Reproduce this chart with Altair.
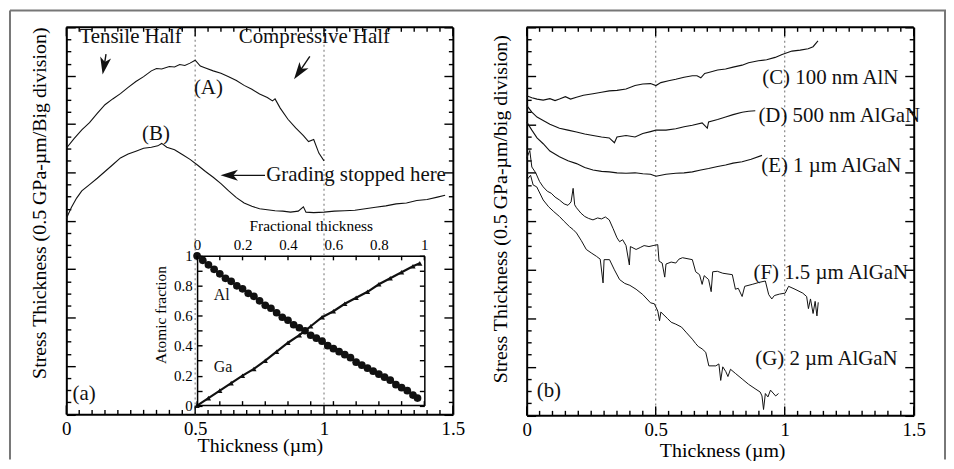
import altair as alt
import pandas as pd

# ---------------- data ----------------
a_t = [0.00, 0.03, 0.06, 0.09, 0.12, 0.15, 0.18, 0.21, 0.24, 0.27, 0.30, 0.33, 0.35, 0.37,
       0.40, 0.42, 0.44, 0.46, 0.48, 0.50, 0.52, 0.54, 0.57, 0.60, 0.63, 0.66, 0.69, 0.72,
       0.75, 0.78, 0.80, 0.81, 0.83, 0.86, 0.89, 0.92, 0.94, 0.96, 0.98, 1.00]
a_v = [5.50, 5.70, 5.88, 6.03, 6.22, 6.40, 6.52, 6.63, 6.76, 6.88, 6.98, 7.10, 7.15, 7.14,
       7.19, 7.18, 7.23, 7.21, 7.26, 7.32, 7.20, 7.16, 7.10, 7.05, 6.98, 6.90, 6.80, 6.72,
       6.62, 6.55, 6.48, 6.52, 6.33, 6.10, 5.92, 5.76, 5.64, 5.68, 5.40, 5.24]
b_t = [0.00, 0.02, 0.04, 0.06, 0.09, 0.12, 0.15, 0.18, 0.21, 0.24, 0.27, 0.30, 0.33, 0.355,
       0.37, 0.39, 0.42, 0.45, 0.48, 0.51, 0.54, 0.57, 0.60, 0.63, 0.66, 0.69, 0.72, 0.75,
       0.78, 0.81, 0.84, 0.87, 0.90, 0.92, 0.93, 0.96, 1.00, 1.04, 1.08, 1.12, 1.16, 1.20,
       1.24, 1.28, 1.32, 1.36, 1.40, 1.44, 1.47]
b_v = [4.05, 4.28, 4.47, 4.62, 4.75, 4.88, 5.02, 5.16, 5.30, 5.38, 5.44, 5.50, 5.52, 5.55,
       5.60, 5.52, 5.47, 5.37, 5.27, 5.15, 5.02, 4.90, 4.77, 4.62, 4.48, 4.37, 4.30, 4.25,
       4.23, 4.21, 4.20, 4.18, 4.20, 4.29, 4.18, 4.17, 4.18, 4.20, 4.21, 4.22, 4.25, 4.28,
       4.31, 4.35, 4.37, 4.42, 4.44, 4.49, 4.53]
al_frac = [0.0, 0.025, 0.05, 0.075, 0.1, 0.125, 0.15, 0.175, 0.2, 0.225, 0.25, 0.275, 0.3,
           0.325, 0.35, 0.375, 0.4, 0.425, 0.45, 0.475, 0.5, 0.525, 0.55, 0.575, 0.6, 0.625,
           0.65, 0.675, 0.7, 0.725, 0.75, 0.775, 0.8, 0.825, 0.85, 0.875, 0.9, 0.925, 0.95, 0.97]
al_val = [1.0, 0.97, 0.94, 0.91, 0.88, 0.85, 0.83, 0.80, 0.78, 0.75, 0.73, 0.70, 0.67,
          0.65, 0.62, 0.59, 0.57, 0.54, 0.52, 0.50, 0.47, 0.45, 0.43, 0.40, 0.38, 0.36,
          0.34, 0.32, 0.29, 0.27, 0.25, 0.23, 0.21, 0.19, 0.17, 0.14, 0.12, 0.10, 0.07, 0.05]
ga_frac = [0.0, 0.05, 0.1, 0.15, 0.2, 0.25, 0.3, 0.35, 0.4, 0.45, 0.5, 0.55, 0.6, 0.65,
           0.7, 0.75, 0.8, 0.85, 0.9, 0.95, 0.98]
ga_val = [0.0, 0.05, 0.10, 0.15, 0.20, 0.245, 0.30, 0.36, 0.42, 0.47, 0.53, 0.59, 0.63, 0.68,
          0.72, 0.76, 0.81, 0.85, 0.89, 0.93, 0.95]
c_t = [0.000, 0.020, 0.040, 0.064, 0.090, 0.110, 0.127, 0.150, 0.170, 0.193, 0.220, 0.257,
       0.290, 0.320, 0.350, 0.385, 0.420, 0.450, 0.480, 0.501, 0.520, 0.550, 0.578, 0.610,
       0.642, 0.660, 0.675, 0.690, 0.705, 0.740, 0.771, 0.800, 0.835, 0.860, 0.898, 0.930,
       0.963, 0.990, 1.028, 1.060, 1.091, 1.110, 1.129]
c_v = [6.59, 6.55, 6.52, 6.50, 6.53, 6.49, 6.52, 6.57, 6.52, 6.56, 6.60, 6.63,
       6.66, 6.69, 6.70, 6.73, 6.80, 6.83, 6.84, 6.80, 6.86, 6.90, 6.93, 6.97,
       7.00, 7.00, 6.96, 7.05, 7.07, 7.12, 7.14, 7.18, 7.22, 7.27, 7.31, 7.33,
       7.38, 7.44, 7.51, 7.53, 7.56, 7.60, 7.72]
d_t = [0.000, 0.020, 0.040, 0.064, 0.090, 0.127, 0.160, 0.193, 0.225, 0.257, 0.290, 0.320,
       0.340, 0.350, 0.385, 0.420, 0.450, 0.480, 0.501, 0.540, 0.578, 0.610, 0.642, 0.680,
       0.700, 0.705, 0.740, 0.771, 0.800, 0.835, 0.860, 0.886]
d_v = [6.39, 6.25, 6.15, 6.08, 6.00, 5.92, 5.88, 5.84, 5.80, 5.77, 5.74, 5.72,
       5.62, 5.74, 5.77, 5.74, 5.81, 5.85, 5.88, 5.88, 5.91, 5.95, 5.98, 6.03,
       5.92, 6.05, 6.10, 6.15, 6.20, 6.25, 6.27, 6.28]
e_t = [0.000, 0.020, 0.040, 0.064, 0.090, 0.127, 0.160, 0.193, 0.225, 0.257, 0.290, 0.320,
       0.350, 0.385, 0.420, 0.450, 0.480, 0.501, 0.540, 0.578, 0.610, 0.642, 0.675, 0.705,
       0.740, 0.771, 0.800, 0.835, 0.870, 0.912]
e_v = [6.05, 5.88, 5.72, 5.60, 5.45, 5.33, 5.25, 5.19, 5.11, 5.06, 5.03, 5.02,
       5.00, 4.99, 5.00, 4.98, 4.97, 4.93, 4.97, 4.99, 5.00, 5.02, 5.06, 5.09,
       5.13, 5.16, 5.20, 5.23, 5.28, 5.36]
f_t = [0.000, 0.012, 0.020, 0.035, 0.050, 0.064, 0.080, 0.095, 0.110, 0.127, 0.145, 0.160,
       0.172, 0.180, 0.186, 0.193, 0.210, 0.225, 0.240, 0.257, 0.275, 0.290, 0.305, 0.320,
       0.335, 0.350, 0.360, 0.372, 0.385, 0.398, 0.402, 0.424, 0.440, 0.455, 0.474, 0.490,
       0.508, 0.513, 0.525, 0.535, 0.540, 0.560, 0.578, 0.590, 0.604, 0.642, 0.655, 0.670,
       0.680, 0.688, 0.705, 0.715, 0.721, 0.739, 0.760, 0.797, 0.809, 0.820, 0.835, 0.845,
       0.874, 0.900, 0.925, 0.938, 0.950, 0.960, 0.980, 1.002, 1.015, 1.040, 1.070, 1.085,
       1.092, 1.100, 1.110, 1.118, 1.125, 1.130]
f_v = [5.30, 5.46, 5.12, 5.00, 4.82, 4.71, 4.62, 4.58, 4.50, 4.44, 4.36, 4.33,
       4.40, 4.68, 4.34, 4.28, 4.17, 4.10, 4.06, 4.03, 4.07, 4.05, 4.09, 4.03,
       3.85, 3.66, 3.58, 3.62, 3.50, 3.10, 3.48, 3.42, 3.46, 3.50, 3.48, 3.50,
       3.52, 3.18, 3.14, 2.85, 3.12, 3.16, 3.14, 3.22, 3.25, 3.21, 2.96, 2.90,
       2.70, 2.88, 2.80, 2.55, 2.96, 2.97, 2.93, 2.90, 2.60, 2.62, 2.45, 2.66,
       2.70, 2.74, 2.77, 2.49, 2.40, 2.47, 2.50, 2.52, 2.66, 2.60, 2.52, 2.45,
       2.20, 2.40, 2.10, 2.35, 2.05, 2.33]
g_t = [0.000, 0.015, 0.025, 0.039, 0.064, 0.085, 0.105, 0.127, 0.145, 0.166, 0.180, 0.193,
       0.212, 0.231, 0.250, 0.270, 0.285, 0.296, 0.300, 0.321, 0.340, 0.360, 0.380, 0.400,
       0.424, 0.450, 0.480, 0.495, 0.508, 0.515, 0.520, 0.545, 0.560, 0.578, 0.600, 0.620,
       0.642, 0.655, 0.665, 0.680, 0.694, 0.706, 0.733, 0.745, 0.752, 0.760, 0.772, 0.780,
       0.790, 0.810, 0.835, 0.860, 0.885, 0.905, 0.912, 0.918, 0.925, 0.935, 0.945, 0.955,
       0.965, 0.976]
g_v = [4.85, 4.95, 4.75, 4.71, 4.44, 4.30, 4.20, 4.10, 4.00, 3.89, 3.83, 3.76,
       3.60, 3.42, 3.35, 3.28, 3.22, 2.73, 3.21, 3.21, 3.00, 2.80, 2.72, 2.68,
       2.60, 2.49, 2.32, 2.30, 2.15, 1.95, 2.13, 2.00, 1.92, 1.88, 1.82, 1.70,
       1.57, 1.48, 1.42, 1.37, 1.30, 1.02, 1.02, 1.06, 0.72, 1.00, 0.90, 0.80,
       0.95, 0.86, 0.75, 0.64, 0.55, 0.48, 0.40, 0.12, 0.45, 0.38, 0.52, 0.46,
       0.40, 0.45]

dotted_x = [0.5, 1.0]
x_tick_labels = [0, 0.5, 1, 1.5]
inset_tick_labels = [0, 0.2, 0.4, 0.6, 0.8, 1]

ann_a_text = ["Tensile Half", "Compressive Half", "(A)", "(B)", "Grading stopped here", "(a)"]
ann_a_t = [0.051, 0.669, 0.495, 0.294, 0.776, 0.024]
ann_a_v = [7.80, 7.80, 6.75, 5.80, 4.94, 0.42]

arrow_t0 = [0.154, 0.945, 0.771]
arrow_v0 = [7.445, 7.40, 4.94]
arrow_t1 = [0.147, 0.904, 0.634]
arrow_v1 = [7.21, 7.08, 4.94]
arrow_angle = [190, 215, 270]

inset_text = ["Al", "Ga"]
inset_text_f = [0.073, 0.073]
inset_text_v = [0.74, 0.26]

ann_b_text = ["(C) 100 nm AlN", "(D) 500 nm AlGaN", "(E) 1 µm AlGaN",
              "(F) 1.5 µm AlGaN", "(G) 2 µm AlGaN", "(b)"]
ann_b_t = [0.913, 0.898, 0.909, 0.879, 0.886, 0.039]
ann_b_v = [6.96, 6.18, 5.15, 2.94, 1.16, 0.50]

# ---------------- layout (view pixels) ----------------
FONT = "Liberation Serif"
VW, VH = 942, 453
XA_R, YA_R = [56.7, 445.7], [407.5, 18]
XB_R, YB_R = [520, 909.5], [408.5, 18]
XI_R, YI_R = [188.3, 417], [398.7, 248]
MAJ, MIN = 9, 4.5
EDGE = "black"

XT = [round(i * 0.05, 2) for i in range(31)]
YT = [round(i * 0.25, 2) for i in range(33)]
IT = [round(i * 0.1, 1) for i in range(11)]
TS_Y = {"condition": {"test": "abs(datum.value - round(datum.value)) < 0.001", "value": MAJ}, "value": MIN}


def sc(domain, rng):
    return alt.Scale(domain=domain, range=rng, nice=False, zero=False)


def tick_axis(orient, offset, values, size, domain=False, dw=2):
    return alt.Axis(orient=orient, offset=offset, values=values, labels=False, ticks=True,
                    tickSize=size, tickWidth=1.4, tickColor="black", domain=domain,
                    domainColor="black", domainWidth=dw, title=None, grid=False)


def label_x_axis(orient, offset, values, fs, pad, title, tx, ty, tfs, dw):
    return alt.Axis(orient=orient, offset=offset, values=values, labelExpr="'' + datum.value",
                    ticks=False, tickSize=0, domain=True, domainColor="black", domainWidth=dw,
                    labelFont=FONT, labelFontSize=fs, labelPadding=pad, labelFlush=False,
                    labelOverlap=False, labelColor="black", grid=False,
                    title=title, titleFont=FONT, titleFontSize=tfs, titleFontWeight="normal",
                    titleColor="black", titleX=tx, titleY=ty, titleBaseline="middle")


def title_y_axis(offset, title, tx, ty, dw, values=None, fs=15, pad=5, tfs=20):
    kw = dict(orient="left", offset=offset, ticks=False, tickSize=0, domain=True,
              domainColor="black", domainWidth=dw, grid=False, title=title, titleFont=FONT,
              titleFontSize=tfs, titleFontWeight="normal", titleColor="black", titleX=tx,
              titleY=ty, titleAngle=270, titleBaseline="middle", titleAlign="center")
    if values is None:
        kw["labels"] = False
    else:
        kw.update(values=values, labelExpr="'' + datum.value", labelFont=FONT, labelFontSize=fs,
                  labelPadding=pad, labelFlush=False, labelOverlap=False, labelColor="black")
    return alt.Axis(**kw)


def line(t, v, xs, ys, xax=None, yax=None, color="#111", sw=1.1):
    df = pd.DataFrame({"t": t, "v": v, "i": list(range(len(t)))})
    return alt.Chart(df).mark_line(color=color, strokeWidth=sw).encode(
        x=alt.X("t:Q", scale=xs, axis=xax), y=alt.Y("v:Q", scale=ys, axis=yax), order="i:Q")


def texts(labels, t, v, xs, ys, fs, xax=None, yax=None):
    df = pd.DataFrame({"label": labels, "t": t, "v": v})
    return alt.Chart(df).mark_text(align="left", baseline="middle", font=FONT, fontSize=fs,
                                   color="#111").encode(
        x=alt.X("t:Q", scale=xs, axis=xax), y=alt.Y("v:Q", scale=ys, axis=yax), text="label:N")


def rules(xs, ys):
    df = pd.DataFrame({"x": dotted_x})
    return alt.Chart(df).mark_rule(color="#888", strokeWidth=1.2, strokeDash=[2, 3]).encode(
        x=alt.X("x:Q", scale=xs, axis=None), y=alt.YDatum(0, scale=ys, axis=None),
        y2=alt.Y2Datum(8))


def edge_ticks(xs, ys, xdom, ydom, yr, xvals, is_major, border_top, border_bottom, bw):
    """Inward ticks on the top and bottom edges of a frame, plus optional edge lines,
    drawn through the frame's own scales."""
    per_px = (ydom[1] - ydom[0]) / abs(yr[0] - yr[1])
    rows = []
    for v in xvals:
        ln = (MAJ if is_major(v) else MIN) * per_px
        rows.append({"x": v, "x2": v, "y": ydom[1], "y2": ydom[1] - ln, "w": 1.4})
        rows.append({"x": v, "x2": v, "y": ydom[0], "y2": ydom[0] + ln, "w": 1.4})
    if border_top:
        rows.append({"x": xdom[0], "x2": xdom[1], "y": ydom[1], "y2": ydom[1], "w": bw})
    if border_bottom:
        rows.append({"x": xdom[0], "x2": xdom[1], "y": ydom[0], "y2": ydom[0], "w": bw})
    return alt.Chart(pd.DataFrame(rows)).mark_rule(color=EDGE).encode(
        x=alt.X("x:Q", scale=xs, axis=None), x2="x2:Q",
        y=alt.Y("y:Q", scale=ys, axis=None), y2="y2:Q",
        strokeWidth=alt.StrokeWidth("w:Q", scale=None))


layers = []

# ---- panel (a) ----
XA, YA = sc([0, 1.5], XA_R), sc([0, 8], YA_R)
layers.append(rules(XA, YA))
layers.append(line(a_t, a_v, XA, YA,
                   xax=label_x_axis("bottom", YA_R[0] - VH, x_tick_labels, 19, 5,
                                    "Thickness (µm)", 251.5, 31.5, 20, 2),
                   yax=title_y_axis(-XA_R[0], "Stress Thickness (0.5 GPa-µm/Big division)",
                                    -26.7, 194.5, 2)))
layers.append(line(b_t, b_v, XA, YA,
                   yax=tick_axis("right", XA_R[0] - VW, YT, TS_Y)))
layers.append(texts(ann_a_text, ann_a_t, ann_a_v, XA, YA, 21,
                    yax=tick_axis("left", -XA_R[1], YT, TS_Y, domain=True)))
arr = pd.DataFrame({"t0": arrow_t0, "v0": arrow_v0, "t1": arrow_t1, "v1": arrow_v1,
                    "ang": arrow_angle})
layers.append(alt.Chart(arr).mark_rule(color="#111", strokeWidth=1.4).encode(
    x=alt.X("t0:Q", scale=XA, axis=None), y=alt.Y("v0:Q", scale=YA, axis=None),
    x2="t1:Q", y2="v1:Q"))
layers.append(alt.Chart(arr).mark_point(shape="M0,-1L0.6,0.9L0,0.4L-0.6,0.9Z", filled=True,
                                        size=340, color="#111", opacity=1).encode(
    x=alt.X("t1:Q", scale=XA, axis=None), y=alt.Y("v1:Q", scale=YA, axis=None),
    angle=alt.Angle("ang:Q", scale=None)))
layers.append(edge_ticks(XA, YA, [0, 1.5], [0, 8], YA_R, XT,
                         lambda v: abs(v * 2 - round(v * 2)) < 1e-6, True, False, 2))

# ---- inset ----
XI, YI = sc([0, 1], XI_R), sc([0, 1], YI_R)
al = pd.DataFrame({"f": al_frac, "v": al_val})
layers.append(alt.Chart(al).mark_circle(size=60, color="#111", opacity=1).encode(
    x=alt.X("f:Q", scale=XI,
            axis=alt.Axis(orient="top", offset=-YI_R[1], values=inset_tick_labels,
                          labelExpr="'' + datum.value", ticks=False, tickSize=0, domain=True,
                          domainColor="black", domainWidth=1.5, labelFont=FONT,
                          labelFontSize=15, labelPadding=3, labelFlush=False,
                          labelOverlap=False, labelColor="black", grid=False,
                          title="Fractional thickness", titleFont=FONT, titleFontSize=15.5,
                          titleFontWeight="normal", titleColor="black",
                          titleX=(XI_R[0] + XI_R[1]) / 2, titleY=-31, titleBaseline="middle")),
    y=alt.Y("v:Q", scale=YI,
            axis=title_y_axis(-XI_R[0], "Atomic fraction", -36.6, 307, 1.5,
                              values=inset_tick_labels, fs=15, pad=5, tfs=15.5))))
ga = pd.DataFrame({"f": ga_frac, "v": ga_val, "i": list(range(len(ga_frac)))})
layers.append(alt.Chart(ga).mark_line(color="#111", strokeWidth=2.2).encode(
    x=alt.X("f:Q", scale=XI, axis=None),
    y=alt.Y("v:Q", scale=YI, axis=tick_axis("left", -XI_R[1], IT, 5, domain=True, dw=1.5)),
    order="i:Q"))
layers.append(alt.Chart(ga).mark_point(shape="triangle-up", filled=True, size=28,
                                       color="#111", opacity=1).encode(
    x=alt.X("f:Q", scale=XI, axis=None),
    y=alt.Y("v:Q", scale=YI, axis=tick_axis("right", XI_R[0] - VW, IT, 5))))
layers.append(texts(inset_text, inset_text_f, inset_text_v, XI, YI, 16))
layers.append(edge_ticks(XI, YI, [0, 1], [0, 1], YI_R, IT, lambda v: False, False, True, 1.5))

# ---- panel (b) ----
XB, YB = sc([0, 1.5], XB_R), sc([0, 8], YB_R)
layers.append(rules(XB, YB))
layers.append(line(c_t, c_v, XB, YB,
                   xax=label_x_axis("bottom", YB_R[0] - VH, x_tick_labels, 19, 5,
                                    "Thickness (µm)", 716.7, 35.2, 20, 2),
                   yax=title_y_axis(-XB_R[0], "Stress Thickness (0.5 GPa-µm/big division)",
                                    -26.7, 200.5, 2)))
layers.append(line(d_t, d_v, XB, YB,
                   yax=tick_axis("right", XB_R[0] - VW, YT, TS_Y)))
layers.append(line(e_t, e_v, XB, YB,
                   yax=tick_axis("left", -XB_R[1], YT, TS_Y, domain=True)))
layers.append(line(f_t, f_v, XB, YB, sw=1.0))
layers.append(line(g_t, g_v, XB, YB, sw=1.0))
layers.append(texts(ann_b_text, ann_b_t, ann_b_v, XB, YB, 21))
layers.append(edge_ticks(XB, YB, [0, 1.5], [0, 8], YB_R, XT,
                         lambda v: abs(v * 2 - round(v * 2)) < 1e-6, True, False, 2))

# ---- outer frame ----
frame = pd.DataFrame({"k": [0]})
layers.append(alt.Chart(frame).mark_rule(color="#777", strokeWidth=2).encode(
    x=alt.value(0), y=alt.value(1), y2=alt.value(VH)))
layers.append(alt.Chart(frame).mark_rule(color="#777", strokeWidth=2).encode(
    x=alt.value(0), x2=alt.value(VW), y=alt.value(1)))
layers.append(alt.Chart(frame).mark_rule(color="#777", strokeWidth=2).encode(
    x=alt.value(VW - 1), y=alt.value(1), y2=alt.value(VH)))

chart = alt.layer(*layers).resolve_scale(x="independent", y="independent").properties(
    width=VW, height=VH, autosize=alt.AutoSizeParams(type="none"),
    padding={"left": 2, "top": 0, "right": 0, "bottom": 0},
    background="white",
).configure_view(stroke=None).configure_axis(grid=False)

chart.save("out.html", embed_options={"renderer": "svg", "actions": False})
